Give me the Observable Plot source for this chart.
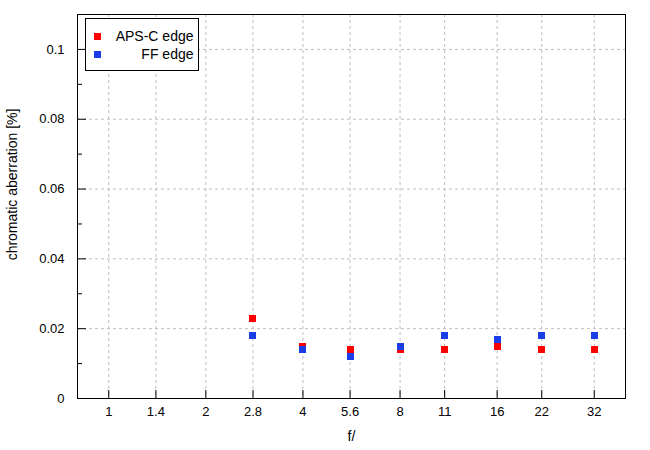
<!DOCTYPE html>
<html>
<head>
<meta charset="utf-8">
<script src="https://cdn.jsdelivr.net/npm/d3@7"></script>
<script src="https://cdn.jsdelivr.net/npm/@observablehq/plot@0.6"></script>
<style>
  body { margin: 0; background: #fff; }
  #chart svg { display: block; }
</style>
</head>
<body>
<div id="chart"></div>
<script>
// ---- data ----
const xTicks = [1, 1.4, 2, 2.8, 4, 5.6, 8, 11, 16, 22, 32];
const xTickLabels = ["1", "1.4", "2", "2.8", "4", "5.6", "8", "11", "16", "22", "32"];
const fstops = [2.8, 4, 5.6, 8, 11, 16, 22, 32];
const apscEdge = [0.023, 0.015, 0.014, 0.014, 0.014, 0.015, 0.014, 0.014];
const ffEdge   = [0.018, 0.014, 0.012, 0.015, 0.018, 0.017, 0.018, 0.018];
const yMajor = [0, 0.02, 0.04, 0.06, 0.08, 0.1];
const yMinor = [0.01, 0.03, 0.05, 0.07, 0.09];
const yGrid = [0.02, 0.04, 0.06, 0.08, 0.1];
const seriesNames = ["APS-C edge", "FF edge"];
const seriesColors = ["#ff0000", "#1a3de8"];

const apsc = fstops.map((f, i) => ({f, v: apscEdge[i]}));
const ff = fstops.map((f, i) => ({f, v: ffEdge[i]}));
const xLabelData = xTicks.map((f, i) => ({f, label: xTickLabels[i]}));

const font = "'Liberation Sans', Arial, sans-serif";
const r = 7 / Math.sqrt(Math.PI);
const gridStyle = {stroke: "#bdbdbd", strokeOpacity: 1, strokeDasharray: "3,3"};

const plot = Plot.plot({
  width: 650,
  height: 450,
  marginLeft: 77,
  marginRight: 25,
  marginTop: 14,
  marginBottom: 52,
  style: {fontFamily: font, fontSize: "13px", background: "#fff", color: "#000"},
  x: {type: "log", domain: [0.8, 40]},
  y: {domain: [0, 0.11]},
  marks: [
    Plot.gridX(xTicks, gridStyle),
    Plot.gridY(yGrid, gridStyle),
    Plot.dot(apsc, {x: "f", y: "v", symbol: "square", r, fill: seriesColors[0], stroke: null, shapeRendering: "crispEdges"}),
    Plot.dot(ff, {x: "f", y: "v", symbol: "square", r, fill: seriesColors[1], stroke: null, shapeRendering: "crispEdges"}),
    Plot.frame({stroke: "#000", strokeWidth: 1}),
    Plot.axisX(xTicks, {tickSize: -8, tickFormat: () => "", label: null}),
    Plot.text(xLabelData, {x: "f", text: "label", frameAnchor: "bottom", dy: 17, fontSize: 13, fill: "#000"}),
    Plot.axisY(yMajor, {tickSize: -9, tickPadding: 22, tickFormat: d => String(d), label: null, fontSize: 13}),
    Plot.axisY(yMinor, {tickSize: -5, tickFormat: () => "", label: null}),
    Plot.text(["chromatic aberration [%]"], {frameAnchor: "left", rotate: -90, dx: -65, dy: -22, fontSize: 14, textAnchor: "middle"}),
    Plot.text(["f/"], {frameAnchor: "bottom", dy: 42, fontSize: 14})
  ]
});

// legend
const svg = d3.select(plot);
const lg = svg.append("g").attr("font-family", font).attr("font-size", 14);
lg.append("rect").attr("x", 85.5).attr("y", 18.5).attr("width", 113).attr("height", 52)
  .attr("fill", "#fff").attr("stroke", "#000").attr("stroke-width", 1);
seriesNames.forEach((name, i) => {
  const cy = 36.5 + i * 17.5;
  lg.append("rect").attr("x", 94).attr("y", Math.round(cy - 3.5)).attr("width", 7).attr("height", 7)
    .attr("fill", seriesColors[i]).attr("shape-rendering", "crispEdges");
  lg.append("text").attr("x", 193.5).attr("y", cy).attr("dy", "0.35em")
    .attr("text-anchor", "end").attr("fill", "#000").text(name);
});

document.getElementById("chart").append(plot);
</script>
</body>
</html>
